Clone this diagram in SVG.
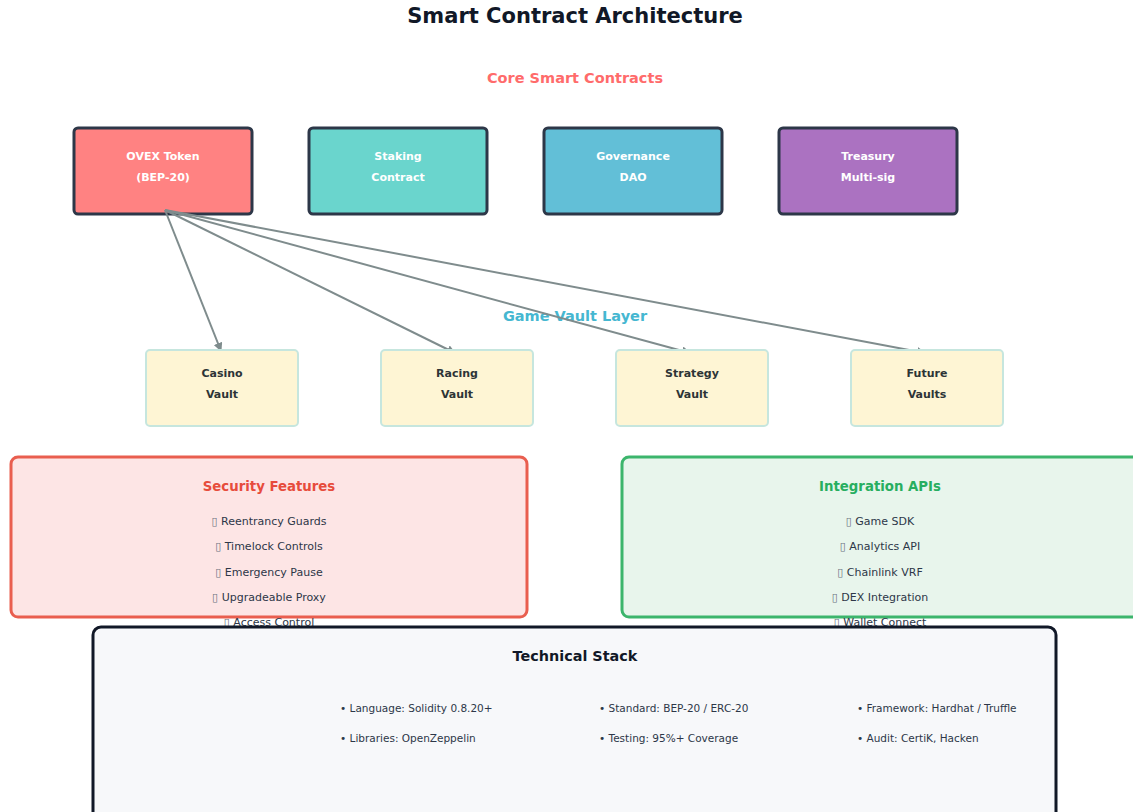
<svg xmlns="http://www.w3.org/2000/svg" width="1133" height="812" viewBox="0 0 1133 812">
<style>
text{font-family:"DejaVu Sans",sans-serif;text-anchor:middle}
text.left{text-anchor:start;font-size:10.5px}
.title{font-size:21px;font-weight:bold;fill:#111827}
.sec{font-size:14.5px;font-weight:bold}
.core rect{stroke:#2d3748;stroke-width:3}
.core text{font-size:11px;font-weight:bold;fill:#ffffff}
.vault rect{fill:#fef5d4;stroke:#c6e6de;stroke-width:2}
.vault text{font-size:11px;font-weight:bold;fill:#2d3436}
.item{font-size:11px;fill:#2d3748}
.ico{fill:#6b7280}
.conn line{stroke:#7f8c8d;stroke-width:2;marker-end:url(#ah)}
</style>
<defs>
<marker id="ah" viewBox="0 0 10 10" refX="9" refY="5" markerWidth="4.5" markerHeight="4.5" orient="auto"><path d="M0,0 L10,5 L0,10 z" fill="#7f8c8d"/></marker>
</defs>
<rect width="1133" height="812" fill="#ffffff"/>
<text class="title" x="575" y="23">Smart Contract Architecture</text>
<text class="sec" x="575" y="83" fill="#ff6b6b">Core Smart Contracts</text>
<g id="ovex" class="core"><rect x="74" y="128" width="178" height="86" rx="4" fill="#ff8282"/><text x="163" y="160">OVEX Token</text><text x="163" y="181">(BEP-20)</text></g>
<g id="staking" class="core"><rect x="309" y="128" width="178" height="86" rx="4" fill="#6ad5cd"/><text x="398" y="160">Staking</text><text x="398" y="181">Contract</text></g>
<g id="governance" class="core"><rect x="544" y="128" width="178" height="86" rx="4" fill="#62bfd7"/><text x="633" y="160">Governance</text><text x="633" y="181">DAO</text></g>
<g id="treasury" class="core"><rect x="779" y="128" width="178" height="86" rx="4" fill="#ab72c1"/><text x="868" y="160">Treasury</text><text x="868" y="181">Multi-sig</text></g>
<text class="sec" x="575" y="321" fill="#45b7d1">Game Vault Layer</text>
<g class="conn">
<line x1="165" y1="210" x2="221" y2="351"/>
<line x1="165" y1="210" x2="455" y2="353"/>
<line x1="165" y1="210" x2="690" y2="353"/>
<line x1="165" y1="210" x2="925" y2="353"/>
</g>
<g id="casino" class="vault"><rect x="146" y="350" width="152" height="76" rx="4"/><text x="222" y="377">Casino</text><text x="222" y="398">Vault</text></g>
<g id="racing" class="vault"><rect x="381" y="350" width="152" height="76" rx="4"/><text x="457" y="377">Racing</text><text x="457" y="398">Vault</text></g>
<g id="strategy" class="vault"><rect x="616" y="350" width="152" height="76" rx="4"/><text x="692" y="377">Strategy</text><text x="692" y="398">Vault</text></g>
<g id="future" class="vault"><rect x="851" y="350" width="152" height="76" rx="4"/><text x="927" y="377">Future</text><text x="927" y="398">Vaults</text></g>
<g id="security">
<rect x="11" y="457" width="516" height="160" rx="7" fill="#fde5e5" stroke="#e95e4f" stroke-width="3"/>
<text x="269" y="491" font-size="13.3" font-weight="bold" fill="#e74c3c">Security Features</text>
<text class="item" x="269" y="525"><tspan class="ico">▯</tspan> Reentrancy Guards</text>
<text class="item" x="269" y="550"><tspan class="ico">▯</tspan> Timelock Controls</text>
<text class="item" x="269" y="576"><tspan class="ico">▯</tspan> Emergency Pause</text>
<text class="item" x="269" y="601"><tspan class="ico">▯</tspan> Upgradeable Proxy</text>
<text class="item" x="269" y="626"><tspan class="ico">▯</tspan> Access Control</text>
</g>
<g id="integration">
<rect x="622" y="457" width="520" height="160" rx="7" fill="#e8f5ec" stroke="#3cb56c" stroke-width="3"/>
<text x="880" y="491" font-size="13.3" font-weight="bold" fill="#27ae60">Integration APIs</text>
<text class="item" x="880" y="525"><tspan class="ico">▯</tspan> Game SDK</text>
<text class="item" x="880" y="550"><tspan class="ico">▯</tspan> Analytics API</text>
<text class="item" x="880" y="576"><tspan class="ico">▯</tspan> Chainlink VRF</text>
<text class="item" x="880" y="601"><tspan class="ico">▯</tspan> DEX Integration</text>
<text class="item" x="880" y="626"><tspan class="ico">▯</tspan> Wallet Connect</text>
</g>
<g id="stack">
<rect x="93" y="627" width="963" height="200" rx="8" fill="#f7f8fa" stroke="#111827" stroke-width="3"/>
<text x="575" y="661" font-size="14.4" font-weight="bold" fill="#111827">Technical Stack</text>
<text class="item left" x="340" y="712">• Language: Solidity 0.8.20+</text>
<text class="item left" x="340" y="742">• Libraries: OpenZeppelin</text>
<text class="item left" x="599" y="712">• Standard: BEP-20 / ERC-20</text>
<text class="item left" x="599" y="742">• Testing: 95%+ Coverage</text>
<text class="item left" x="857" y="712">• Framework: Hardhat / Truffle</text>
<text class="item left" x="857" y="742">• Audit: CertiK, Hacken</text>
</g>
</svg>
